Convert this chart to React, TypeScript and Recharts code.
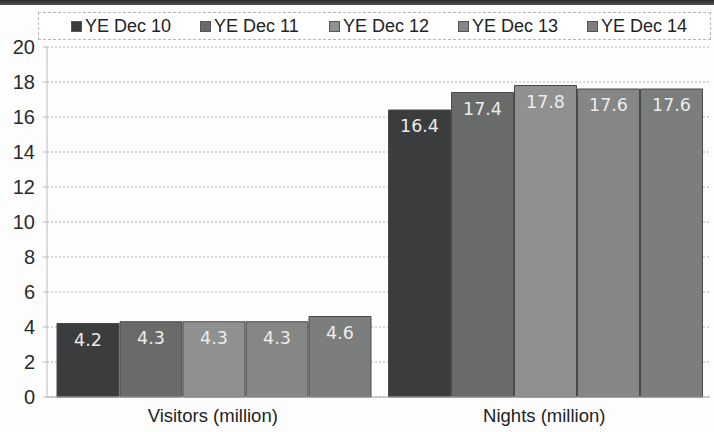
import React from 'react';
import { BarChart, Bar, XAxis, YAxis, CartesianGrid, LabelList, Legend } from 'recharts';

const categories = ['Visitors (million)', 'Nights (million)'];
const seriesNames = ['YE Dec 10', 'YE Dec 11', 'YE Dec 12', 'YE Dec 13', 'YE Dec 14'];
const ye10 = [4.2, 16.4];
const ye11 = [4.3, 17.4];
const ye12 = [4.3, 17.8];
const ye13 = [4.3, 17.6];
const ye14 = [4.6, 17.6];
const yTicks = [0, 2, 4, 6, 8, 10, 12, 14, 16, 18, 20];

const colors = ['#3a3c3e', '#696a6a', '#8f9090', '#858686', '#7c7d7d'];
const keys = ['ye10', 'ye11', 'ye12', 'ye13', 'ye14'];
const seriesValues = [ye10, ye11, ye12, ye13, ye14];

const data = categories.map((name, i) => {
  const row: Record<string, string | number> = { name };
  keys.forEach((k, s) => {
    row[k] = seriesValues[s][i];
  });
  return row;
});

const font = '"Liberation Sans", Arial, sans-serif';

const LegendBox = () => (
  <div
    style={{
      position: 'absolute',
      left: 38,
      top: 12,
      width: 673,
      height: 28,
      border: '1px dashed #b8b8b8',
      boxSizing: 'border-box',
      fontFamily: font,
      fontSize: 18,
      color: '#222',
      background: '#fff',
    }}
  >
    {seriesNames.map((n, i) => (
      <div
        key={n}
        style={{
          position: 'absolute',
          left: 32 + i * 129,
          top: 0,
          height: 26,
          display: 'flex',
          alignItems: 'center',
          whiteSpace: 'nowrap',
        }}
      >
        <span
          style={{
            display: 'inline-block',
            width: 9,
            height: 9,
            background: colors[i],
            border: '1px solid #555',
            marginRight: 3,
          }}
        />
        <span>{n}</span>
      </div>
    ))}
  </div>
);

export default function App() {
  return (
    <div style={{ position: 'absolute', left: 0, top: 0, width: 714, height: 432, background: '#fdfdfd', overflow: 'hidden' }}>
      <div style={{ position: 'absolute', left: 0, top: 0, width: 714, height: 5, background: 'linear-gradient(#2a2a2a, #555)' }} />
      <BarChart
        width={714}
        height={432}
        data={data}
        margin={{ top: 47, right: 4, left: 0, bottom: 0 }}
        barCategoryGap={10}
        barGap={1}
      >
        <CartesianGrid vertical={false} stroke="#b5b5b5" strokeDasharray="2 2" />
        <XAxis
          dataKey="name"
          height={35}
          axisLine={{ stroke: '#aaa' }}
          tickLine={false}
          tick={{ fill: '#222', fontSize: 18.5, fontFamily: font }}
          tickMargin={6}
        />
        <YAxis
          width={47}
          domain={[0, 20]}
          ticks={yTicks}
          interval={0}
          axisLine={{ stroke: '#bbb' }}
          tickLine={{ stroke: '#bbb' }}
          tickSize={4}
          tickMargin={8}
          tick={{ fill: '#2a2a2a', fontSize: 20, fontFamily: font }}
        />
        <Legend content={() => null} />
        {keys.map((k, i) => (
          <Bar key={k} dataKey={k} name={seriesNames[i]} fill={colors[i]} stroke="#4a4a4a" strokeWidth={1} isAnimationActive={false}>
            <LabelList dataKey={k} position="insideTop" offset={10} fill="#ececec" fontSize={17.5} fontFamily='"DejaVu Sans", sans-serif' />
          </Bar>
        ))}
      </BarChart>
      <LegendBox />
    </div>
  );
}
